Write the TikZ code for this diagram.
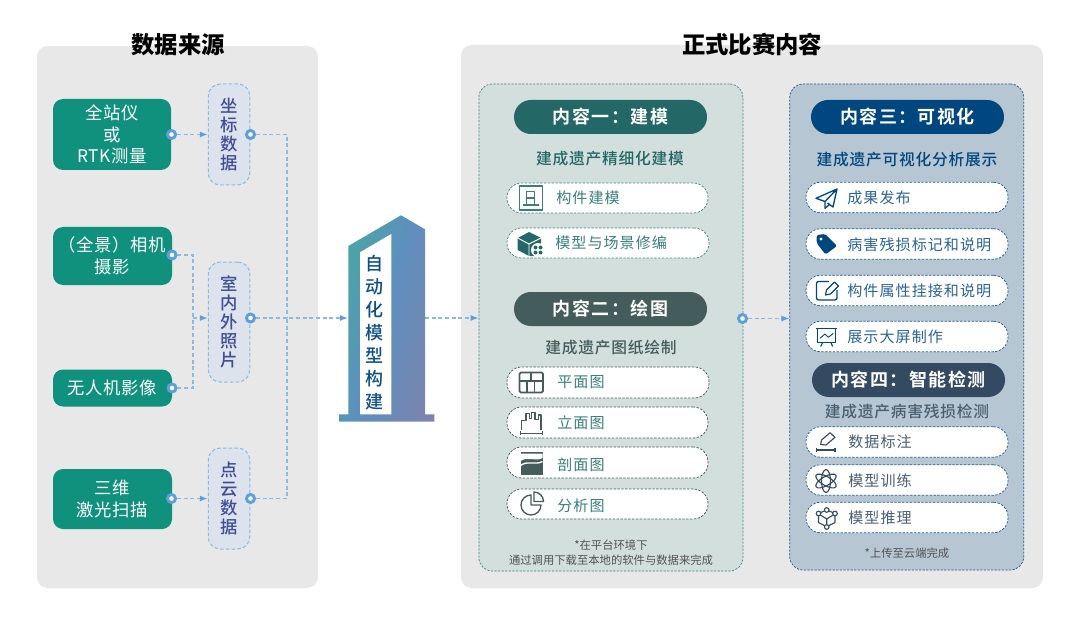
\documentclass[tikz,border=0pt]{standalone}
\usepackage{fontspec}
\usetikzlibrary{arrows.meta}
\setmainfont{Noto Sans CJK SC}
\newfontfamily\medfont{Noto Sans CJK SC Medium}
\newfontfamily\sourcefont[LetterSpace=4]{Noto Sans CJK SC}
\newfontfamily\itemfont[LetterSpace=7]{Noto Sans CJK SC}
\newfontfamily\subfont[LetterSpace=5]{Noto Sans CJK SC Medium}
\newfontfamily\headfont[LetterSpace=8]{Noto Sans CJK SC Bold}
\definecolor{panelgray}{HTML}{E8E8E8}
\definecolor{srcgreen}{HTML}{10917D}
\definecolor{linkblue}{HTML}{86BBE8}
\definecolor{dotblue}{HTML}{5B9FDC}
\definecolor{pillfill}{HTML}{DDE3EC}
\definecolor{pilltext}{HTML}{3F4E96}
\definecolor{bldA}{HTML}{3FB098}
\definecolor{bldB}{HTML}{5F8FBF}
\definecolor{bldC}{HTML}{8082A8}
\definecolor{bldtext}{HTML}{0E4F87}
\definecolor{panelA}{HTML}{D3DFDD}
\definecolor{panelB}{HTML}{B7C6D3}
\definecolor{edgeA}{HTML}{3F8A85}
\definecolor{edgeB}{HTML}{1F5F96}
\definecolor{headA}{HTML}{236766}
\definecolor{headB}{HTML}{445C5C}
\definecolor{headC}{HTML}{00477F}
\definecolor{headD}{HTML}{344A60}
\definecolor{txtA}{HTML}{3A7F7C}
\definecolor{txtC}{HTML}{2A6496}
\definecolor{txtD}{HTML}{4A5F70}
\pgfdeclarehorizontalshading{bldshade}{100bp}{color(0bp)=(bldA); color(40bp)=(bldA); color(50bp)=(bldB); color(60bp)=(bldC); color(100bp)=(bldC)}
\tikzset{
  boxsize/.style 2 args={minimum width=#1*0.75pt,minimum height=#2*0.75pt,inner sep=0pt},
  backpanel/.style={fill=panelgray,rounded corners=8pt},
  srcbox/.style={fill=srcgreen,text=white,rounded corners=7.5pt,align=center,font=\sourcefont\fontsize{13}{16.2}\selectfont},
  datapill/.style={fill=pillfill,draw=linkblue,line width=0.75pt,dash pattern=on 2.6pt off 1.7pt,rounded corners=9pt,text=pilltext,align=center,font=\medfont\fontsize{13}{14.25}\selectfont},
  innerpanel/.style={line width=0.55pt,dash pattern=on 1.6pt off 1.1pt,rounded corners=10pt},
  headpill/.style={rounded corners=12.7pt,text=white,font=\headfont\fontsize{13.5}{16}\selectfont},
  subtitle/.style={font=\subfont\fontsize{11.8}{14}\selectfont},
  itembox/.style={fill=white,line width=0.55pt,dash pattern=on 1.8pt off 1.1pt,rounded corners=11pt},
  itemtext/.style={anchor=west,inner sep=0pt,font=\itemfont\fontsize{11.3}{14}\selectfont},
  note/.style={text=black!68,align=center,font=\fontsize{8.5}{11.2}\selectfont},
  joint/.style={circle,fill=white,draw=dotblue,line width=2.2pt,minimum size=6pt,inner sep=0pt},
  link/.style={draw=linkblue,line width=0.85pt,dash pattern=on 3pt off 2pt},
  linkarrow/.style={link,-{Latex[length=6pt,width=4.5pt,fill=dotblue,color=dotblue]}},
  iconA/.style={draw=txtA,line width=0.8pt,line join=round},
  iconB/.style={draw=headB,line width=1pt,line join=round},
  iconC/.style={draw=headC,line width=1pt,line join=round},
  iconD/.style={draw=headD,line width=0.85pt,line join=round}
}
\begin{document}
\begin{tikzpicture}[x=0.75pt,y=-0.75pt]
	\useasboundingbox (0,0) rectangle (1080,620);

	\draw (177.5,317) node[backpanel,boxsize={281}{542}] (leftpanel) {};
	\draw (752,316.5) node[backpanel,boxsize={582}{543}] (rightpanel) {};
	\draw (178,45) node[font=\bfseries\fontsize{17.5}{20}\selectfont] (lefttitle) {数据来源};
	\draw (752,44) node[font=\bfseries\fontsize{17.5}{20}\selectfont] (righttitle) {正式比赛内容};

	\draw (112,134.5) node[srcbox,boxsize={118}{71}] (src1) {全站仪\\或\\RTK测量};
	\draw (112.5,256) node[srcbox,boxsize={119}{58}] (src2) {（全景）相机\\摄影};
	\draw (112.5,388) node[srcbox,boxsize={119}{37}] (src3) {无人机影像};
	\draw (112.5,499) node[srcbox,boxsize={119}{60}] (src4) {三维\\激光扫描};

	\draw (229,134.5) node[datapill,boxsize={41.5}{101}] (pill1) {坐\\标\\数\\据};
	\draw (229,322) node[datapill,boxsize={41.5}{120}] (pill2) {室\\内\\外\\照\\片};
	\draw (229,498.5) node[datapill,boxsize={41.5}{101}] (pill3) {点\\云\\数\\据};

	\draw (610.9,327.5) node[innerpanel,fill=panelA,draw=edgeA,boxsize={264}{487}] (groupA) {};
	\draw (906.7,327) node[innerpanel,fill=panelB,draw=edgeB,boxsize={234}{486}] (groupB) {};

	\coordinate (elbowL) at (193,318);
	\coordinate (elbowR) at (287,318);
	\coordinate (bldL) at (348,318);
	\coordinate (bldR) at (425,318);

	\draw (171.5,134.5) node[joint] (dot1) {};
	\draw (172,255) node[joint] (dot2) {};
	\draw (172,388) node[joint] (dot3) {};
	\draw (171.5,498.5) node[joint] (dot4) {};
	\draw (250.5,134.5) node[joint] (dot5) {};
	\draw (250.5,318) node[joint] (dot6) {};
	\draw (250.5,498.5) node[joint] (dot7) {};
	\draw (742.5,318.5) node[joint] (dot8) {};

	\draw [linkarrow] (dot1) -- (pill1.west);
	\draw [linkarrow] (dot4) -- (pill3.west);
	\draw [link] (dot2) -| (elbowL);
	\draw [link] (dot3) -| (elbowL);
	\draw [linkarrow] (elbowL) -- (elbowL -| pill2.west);
	\draw [link] (dot5) -| (elbowR);
	\draw [link] (dot7) -| (elbowR);
	\draw [linkarrow] (dot6) -- (bldL);
	\draw [linkarrow] (bldR) -- (bldR -| groupA.west);
	\draw [linkarrow] (dot8) -- (dot8 -| groupB.west);

	\begin{scope}
		\clip (348.3,246) -- (401,215.3) -- (425,229.3) -- (425,414.3) -- (434.3,414.3) -- (434.3,421.7)
			-- (339,421.7) -- (339,414.3) -- (348.3,414.3) -- cycle;
		\shade [shading=bldshade,shading angle=-15] (200,62) rectangle (600,462);
	\end{scope}
	\fill [white] (360,252.3) -- (391.3,234) -- (391.3,414.3) -- (360,414.3) -- cycle;
	\draw (374,333) node[align=center,text=bldtext,inner sep=0pt,font=\medfont\fontsize{13.5}{17.25}\selectfont] (bldtitle) {自\\动\\化\\模\\型\\构\\建};

	\draw (610.5,117) node[headpill,fill=headA,boxsize={193}{34}] (headA1) {内容一：建模};
	\draw (610,159) node[subtitle,text=headA] (subA1) {建成遗产精细化建模};
	\draw (607.5,198) node[itembox,draw=edgeA,boxsize={201}{30}] (itemA1) {};
	\draw (608,243) node[itembox,draw=edgeA,boxsize={202}{30}] (itemA2) {};
	\draw (556,198) node[itemtext,text=txtA] (labelA1) {构件建模};
	\draw (555,243) node[itemtext,text=txtA] (labelA2) {模型与场景修编};

	\draw (610.5,309) node[headpill,fill=headB,boxsize={193}{34}] (headA2) {内容二：绘图};
	\draw (611,348) node[subtitle,text=headB] (subA2) {建成遗产图纸绘制};
	\draw (608,382.5) node[itembox,draw=headB,boxsize={202}{31}] (itemB1) {};
	\draw (607.5,422.5) node[itembox,draw=headB,boxsize={201}{31}] (itemB2) {};
	\draw (607.5,462.5) node[itembox,draw=headB,boxsize={201}{31}] (itemB3) {};
	\draw (607.5,504) node[itembox,draw=headB,boxsize={201}{30}] (itemB4) {};
	\draw (557,382.5) node[itemtext,text=txtA] (labelB1) {平面图};
	\draw (557,422.5) node[itemtext,text=txtA] (labelB2) {立面图};
	\draw (557,465) node[itemtext,text=txtA] (labelB3) {剖面图};
	\draw (557,506) node[itemtext,text=txtA] (labelB4) {分析图};
	\draw (611,552.5) node[note] (noteA) {*在平台环境下\\通过调用下载至本地的软件与数据来完成};

	\draw (907.5,117) node[headpill,fill=headC,boxsize={193}{34}] (headC1) {内容三：可视化};
	\draw (907,160) node[subtitle,text=headC] (subC1) {建成遗产可视化分析展示};
	\draw (907,197.5) node[itembox,draw=edgeB,boxsize={202}{30.5}] (itemC1) {};
	\draw (907,244) node[itembox,draw=edgeB,boxsize={202}{30.5}] (itemC2) {};
	\draw (907,290.5) node[itembox,draw=edgeB,boxsize={202}{30.5}] (itemC3) {};
	\draw (907,336.5) node[itembox,draw=edgeB,boxsize={202}{30.5}] (itemC4) {};
	\draw (847,198) node[itemtext,text=txtC] (labelC1) {成果发布};
	\draw (847,244.5) node[itemtext,text=txtC] (labelC2) {病害残损标记和说明};
	\draw (847,291) node[itemtext,text=txtC] (labelC3) {构件属性挂接和说明};
	\draw (847,337) node[itemtext,text=txtC] (labelC4) {展示大屏制作};

	\draw (908.5,380) node[headpill,fill=headD,boxsize={193}{34}] (headD1) {内容四：智能检测};
	\draw (907,412) node[subtitle,text=txtD] (subD1) {建成遗产病害残损检测};
	\draw (907,442) node[itembox,draw=edgeB,boxsize={202}{30.5}] (itemD1) {};
	\draw (907,480) node[itembox,draw=edgeB,boxsize={202}{30.5}] (itemD2) {};
	\draw (907,517.5) node[itembox,draw=edgeB,boxsize={202}{30.5}] (itemD3) {};
	\draw (848,442) node[itemtext,text=txtD] (labelD1) {数据标注};
	\draw (848,481) node[itemtext,text=txtD] (labelD2) {模型训练};
	\draw (848,518) node[itemtext,text=txtD] (labelD3) {模型推理};
	\draw (907,553) node[note] (noteB) {*上传至云端完成};

	\draw [iconA] (519.5,186) rectangle (542.7,210);
	\draw [iconA] (526.7,204) -- (526.7,191.5) -- (534.5,191.5) -- (534.5,204) (526.7,198) -- (534.5,198);
	\draw [iconA,line width=1.6pt] (522.7,205) -- (539,205);

	\fill [headA] (529,232) -- (541,238) -- (541,247) -- (535,256) -- (529,256) -- (517.7,250) -- (517.7,238) -- cycle;
	\draw [white,line width=0.7pt] (517.7,238) -- (529,244) -- (541,238) (529,244) -- (529,256);
	\fill [white] (538,250) circle (7);
	\fill [headA] (535.5,247.5) circle (2) (540.5,247.5) circle (2) (535.5,252.5) circle (2) (540.5,252.5) circle (2);

	\draw [iconB,line width=1.3pt,rounded corners=1pt] (519.5,372.5) rectangle (543,392.5);
	\draw [iconB,line width=1.3pt] (519.5,381) -- (543,381) (530.7,372.5) -- (530.7,381) (527.3,381) -- (527.3,392.5) (534.5,381) -- (534.5,392.5);

	\draw [iconB,line width=0.8pt] (521.7,430) -- (521.7,420.7) -- (526,420.7) -- (526,413.3) -- (529.3,413.3) -- (529.3,418.3) -- (531.7,418.3)
		-- (531.7,412.3) -- (535,412.3) -- (535,419.3) -- (538.3,419.3) -- (538.3,415) -- (541,415) -- (541,430);
	\draw [iconB,line width=0.8pt] (520.3,431) -- (520.3,435) (520.3,433.3) -- (542.3,433.3) (542.3,431) -- (542.3,435);

	\fill [headB] (520.5,452) rectangle (542.5,474.5);
	\fill [white] (520.5,453.5) -- (542.5,453.5) -- (542.5,458) .. controls (536,462) and (528,456) .. (520.5,461) -- cycle;
	\draw [white,line width=1pt] (520.5,465.5) .. controls (528,460) and (535,465.5) .. (542.5,461.5);

	\draw [iconB] (531,495) arc[start angle=-90,end angle=-360,radius=10] -- (531,505) -- cycle;
	\draw [iconB] (534,492) arc[start angle=-90,end angle=0,radius=9.5] -- (534,501.5) -- cycle;

	\draw [iconC] (837,189) -- (816,198.3) -- (825,201.5) -- (837,189) -- (833,207) -- (827.5,203);
	\draw [iconC] (825,201.5) -- (825,208.3) -- (829.5,204.5);

	\fill [headC,rounded corners=1.2pt] (816.7,235) -- (825,234) -- (837,246) -- (825.5,254.5) -- (816.7,243) -- cycle;
	\fill [white] (821,239) circle (1.6);

	\draw [iconC,rounded corners=1.5pt] (829,281.5) -- (816.5,281.5) -- (816.5,300) -- (837,300) -- (837,290);
	\draw [iconC,line width=0.85pt] (825.5,295) -- (826.5,290) -- (834.5,282) -- (838.5,286) -- (830.5,294) -- cycle;

	\draw [iconC] (816,328.5) -- (837.3,328.5);
	\draw [iconC,line width=0.85pt] (817.7,328.5) -- (817.7,342.3) -- (835.7,342.3) -- (835.7,328.5);
	\draw [iconC,line width=0.85pt] (822.7,342.3) -- (820.7,346.5) (830.7,342.3) -- (832.7,346.5);
	\draw [iconC,line width=0.7pt] (820,338.3) -- (825,334) -- (828.3,337.3) -- (833.3,333.3);

	\draw [iconD] (820.7,444.5) -- (821.5,440) -- (830,432.7) -- (835,437.3) -- (826,445) -- cycle;
	\draw [iconD] (816.7,447.5) -- (816.7,452) (816.7,450) -- (835,450) (835,447.5) -- (835,452);

	\draw [iconD,rotate around={30:(826,481)}] (826,481) ellipse (11.5 and 4.5);
	\draw [iconD,rotate around={90:(826,481)}] (826,481) ellipse (11.5 and 4.5);
	\draw [iconD,rotate around={150:(826,481)}] (826,481) ellipse (11.5 and 4.5);

	\draw [iconD] (826.7,510) circle (2.3) (818.5,513.5) circle (2.3) (835,513.5) circle (2.3) (826.7,527) circle (2.3);
	\draw [iconD] (829,511) -- (832.8,512.5) (824.4,511) -- (820.6,512.5) (818.5,516) -- (818.5,522.5) -- (824.8,525.8)
		(835,516) -- (835,522.5) -- (828.6,525.8) (826.7,524.7) -- (826.7,519) (820.5,515) -- (826.7,519) -- (833,515);
\end{tikzpicture}
\end{document}
